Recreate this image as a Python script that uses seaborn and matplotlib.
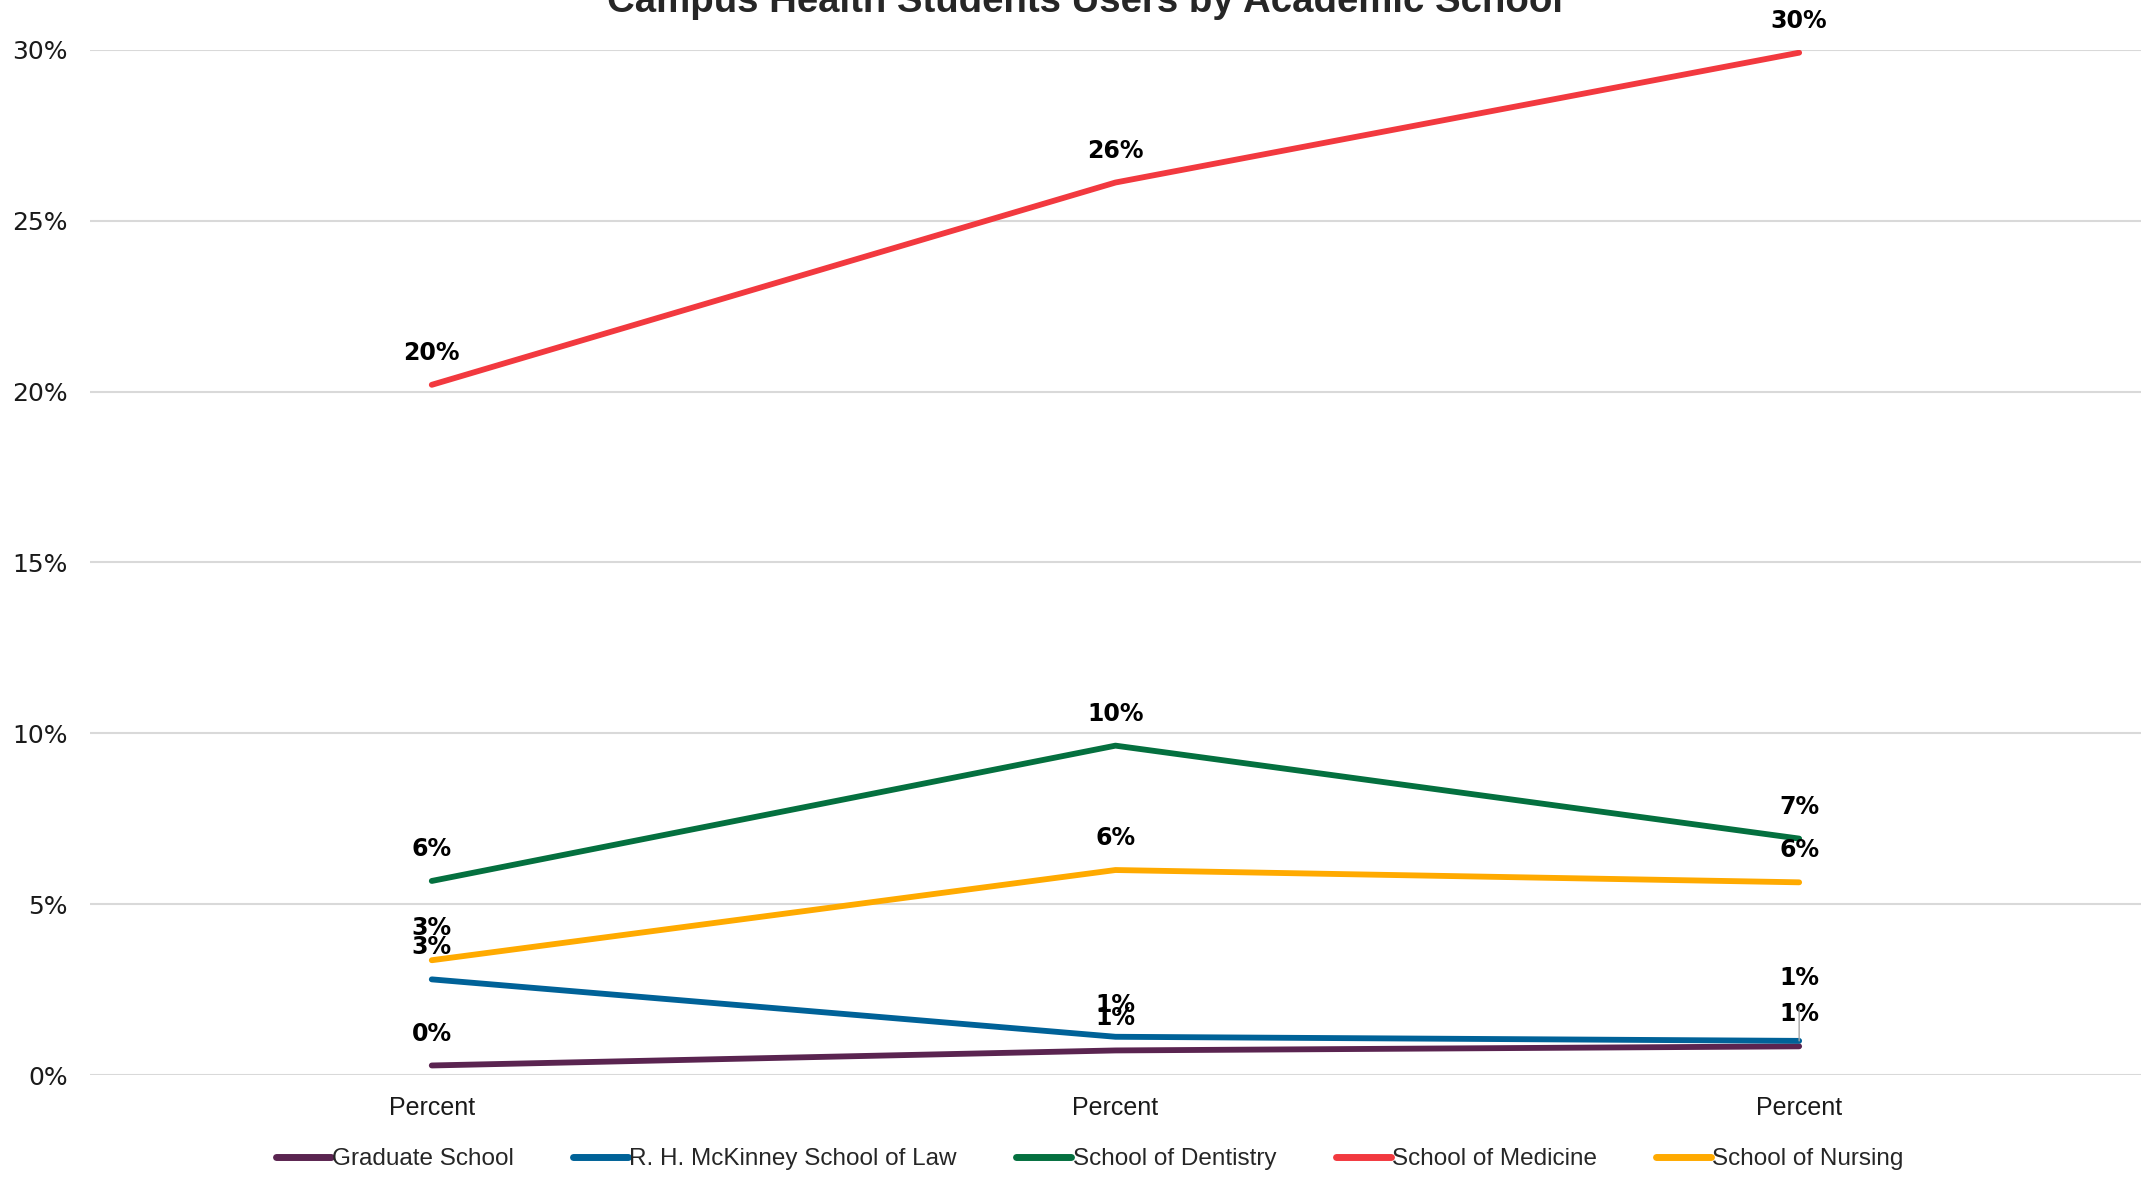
import matplotlib
matplotlib.use("Agg")
import matplotlib.pyplot as plt
import seaborn as sns
import pandas as pd

# Share of campus health student users, by academic school
periods = ["Percent", "Percent", "Percent"]
schools = ["Graduate School", "R. H. McKinney School of Law", "School of Dentistry",
           "School of Medicine", "School of Nursing"]
graduate = [0.28, 0.72, 0.84]
law = [2.80, 1.12, 1.00]
dentistry = [5.68, 9.64, 6.92]
medicine = [20.2, 26.12, 29.92]
nursing = [3.36, 6.00, 5.64]
colors = ["#5A2450", "#006298", "#04703F", "#F2393F", "#FFAA00"]

series = [graduate, law, dentistry, medicine, nursing]
rows = []
for name, vals in zip(schools, series):
    for i, v in enumerate(vals):
        rows.append({"period": i, "school": name, "value": v})
df = pd.DataFrame(rows)

sns.set_theme(style="white")
plt.rcParams["font.family"] = ["DejaVu Sans"]
arial = ["Liberation Sans", "DejaVu Sans"]

fig = plt.figure(figsize=(21.41, 11.78), dpi=100)
ax = fig.add_axes([0.042, 0.0874, 0.958, 0.8702])

sns.lineplot(data=df, x="period", y="value", hue="school", hue_order=schools,
             palette=colors, linewidth=4.2, ax=ax, legend=False,
             solid_capstyle="round")

ax.set_xlim(-0.5, 2.5)
ax.set_ylim(0, 30)
ax.set_yticks(range(0, 31, 5))
ax.set_yticklabels([f"{t}%" for t in range(0, 31, 5)], fontsize=18, color="#1a1a1a")
ax.set_xticks(range(len(periods)))
ax.set_xticklabels(periods, fontsize=18, color="#1a1a1a", family=arial)
ax.tick_params(axis="y", length=0, pad=16)
ax.tick_params(axis="x", length=0, pad=15)
ax.set_xlabel("")
ax.set_ylabel("")
ax.yaxis.grid(True, color="#D9D9D9", linewidth=1.5)
ax.set_axisbelow(True)
for sp in ax.spines.values():
    sp.set_visible(False)

# Value labels above each point
for name, vals in zip(schools, series):
    for i, v in enumerate(vals):
        if name == schools[1] and i == 2:
            ax.annotate(f"{round(v):.0f}%", xy=(i, v), xytext=(0, 45),
                        textcoords="offset points", ha="center", va="center",
                        fontsize=17, fontweight="bold", color="black",
                        annotation_clip=False,
                        arrowprops=dict(arrowstyle="-", color="#A6A6A6", lw=1,
                                        shrinkA=10, shrinkB=0))
        else:
            ax.annotate(f"{round(v):.0f}%", xy=(i, v), xytext=(0, 23),
                        textcoords="offset points", ha="center", va="center",
                        fontsize=17, fontweight="bold", color="black",
                        annotation_clip=False)

fig.text(0.507, 0.998, "Campus Health Students Users by Academic School",
         ha="center", va="center", fontsize=27.6, fontweight="bold", family=arial)

handles = [plt.Line2D([0], [0], color=c, linewidth=5, solid_capstyle="round")
           for c in colors]
fig.legend(handles, schools, loc="center", bbox_to_anchor=(0.509, 0.016),
           ncol=5, frameon=False, handlelength=2.26, handletextpad=0.05,
           columnspacing=2.45, prop={"family": arial, "size": 17.5})

fig.savefig("out.png", dpi=100)
